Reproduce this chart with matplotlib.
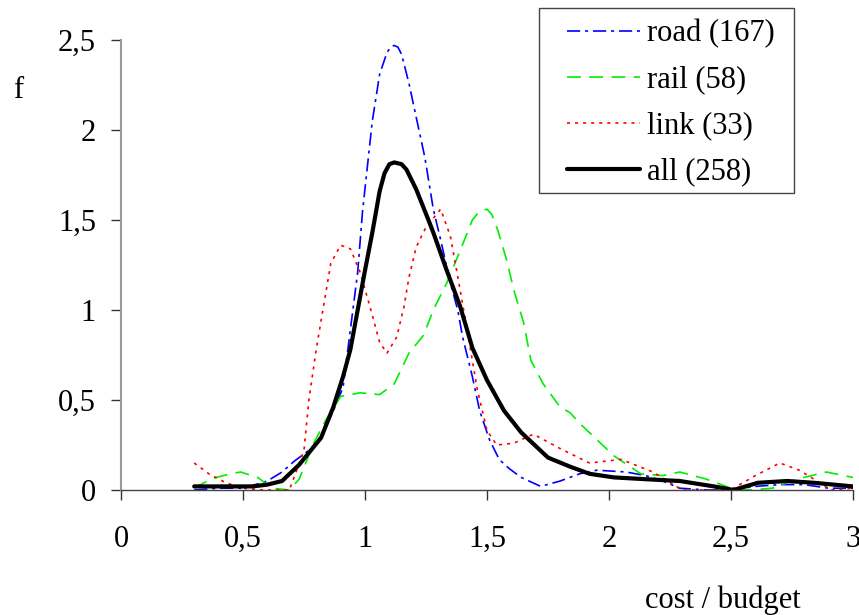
import numpy as np
import matplotlib as mpl
mpl.use("Agg")
import matplotlib.pyplot as plt
import matplotlib.patches as ptc
from matplotlib.ticker import FuncFormatter

# values
road_x = [0.30, 0.40, 0.50, 0.60, 0.66, 0.71, 0.76, 0.80, 0.84, 0.88, 0.91, 0.94,
          0.97, 0.99, 1.01, 1.03, 1.06, 1.09, 1.105, 1.12, 1.135, 1.15, 1.18, 1.21,
          1.245, 1.28, 1.31, 1.35, 1.38, 1.40, 1.44, 1.47, 1.51, 1.55, 1.59, 1.64,
          1.72, 1.80, 1.88, 1.95, 2.07, 2.15, 2.22, 2.29, 2.40, 2.50, 2.60, 2.70,
          2.80, 2.90, 3.00]
road_y = [0.00, 0.01, 0.01, 0.05, 0.10, 0.16, 0.21, 0.26, 0.35, 0.47, 0.57, 0.89,
          1.21, 1.55, 1.80, 2.05, 2.31, 2.43, 2.46, 2.47, 2.46, 2.42, 2.26, 2.07,
          1.85, 1.56, 1.39, 1.15, 1.00, 0.85, 0.63, 0.44, 0.28, 0.17, 0.12, 0.07,
          0.02, 0.05, 0.09, 0.11, 0.10, 0.08, 0.05, 0.01, 0.00, 0.00, 0.02, 0.03,
          0.03, 0.01, 0.01]

rail_x = [0.30, 0.34, 0.39, 0.45, 0.49, 0.56, 0.62, 0.69, 0.73, 0.79, 0.84, 0.90,
          0.98, 1.06, 1.12, 1.18, 1.24, 1.28, 1.335, 1.39, 1.44, 1.47, 1.50, 1.52,
          1.545, 1.58, 1.61, 1.65, 1.68, 1.73, 1.80, 1.84, 1.88, 1.95, 2.02, 2.13,
          2.22, 2.29, 2.40, 2.50, 2.58, 2.67, 2.77, 2.89, 3.00]
rail_y = [0.01, 0.04, 0.07, 0.09, 0.10, 0.07, 0.01, 0.00, 0.06, 0.26, 0.39, 0.52,
          0.54, 0.53, 0.59, 0.76, 0.86, 1.00, 1.15, 1.33, 1.50, 1.55, 1.56, 1.53,
          1.44, 1.28, 1.11, 0.93, 0.72, 0.59, 0.46, 0.43, 0.37, 0.28, 0.19, 0.09,
          0.08, 0.10, 0.06, 0.01, 0.00, 0.01, 0.06, 0.10, 0.07]

link_x = [0.30, 0.36, 0.43, 0.50, 0.58, 0.69, 0.75, 0.77, 0.80, 0.83, 0.86, 0.90,
          0.94, 0.98, 1.02, 1.06, 1.09, 1.13, 1.16, 1.18, 1.21, 1.25, 1.31, 1.35,
          1.39, 1.42, 1.46, 1.50, 1.54, 1.61, 1.69, 1.80, 1.92, 2.05, 2.18, 2.30,
          2.40, 2.51, 2.60, 2.70, 2.78, 2.84, 2.91, 3.00]
link_y = [0.15, 0.09, 0.04, 0.01, 0.00, 0.00, 0.22, 0.50, 0.78, 1.02, 1.26, 1.36,
          1.34, 1.21, 1.02, 0.82, 0.76, 0.85, 1.02, 1.18, 1.35, 1.46, 1.56, 1.41,
          1.11, 0.88, 0.56, 0.33, 0.25, 0.26, 0.31, 0.23, 0.15, 0.17, 0.10, 0.00,
          0.00, 0.01, 0.08, 0.15, 0.11, 0.06, 0.00, 0.01]

all_x = [0.30, 0.40, 0.54, 0.60, 0.66, 0.73, 0.82, 0.87, 0.91, 0.94, 0.97, 1.00,
         1.03, 1.06, 1.08, 1.10, 1.12, 1.15, 1.17, 1.21, 1.26, 1.28, 1.335, 1.39,
         1.44, 1.50, 1.57, 1.64, 1.75, 1.84, 1.92, 2.02, 2.15, 2.29, 2.43, 2.51,
         2.61, 2.73, 2.84, 3.00]
all_y = [0.02, 0.02, 0.02, 0.03, 0.05, 0.14, 0.29, 0.46, 0.63, 0.78, 1.00, 1.22,
         1.43, 1.66, 1.76, 1.81, 1.82, 1.81, 1.78, 1.67, 1.50, 1.43, 1.22, 1.02,
         0.79, 0.61, 0.44, 0.32, 0.18, 0.13, 0.09, 0.07, 0.06, 0.05, 0.02, 0.00,
         0.04, 0.05, 0.04, 0.02]

labels = ["road (167)", "rail (58)", "link (33)", "all (258)"]
x_ticks = [0, 0.5, 1, 1.5, 2, 2.5, 3]
y_ticks = [0, 0.5, 1, 1.5, 2, 2.5]

W, H = 859, 615
plt.rcParams["font.family"] = ["Liberation Serif", "DejaVu Serif"]
plt.rcParams["lines.scale_dashes"] = False

fig = plt.figure(figsize=(W / 100, H / 100), dpi=100)
ax = fig.add_axes([121 / W, 1 - 490 / H, 732 / W, 450 / H])

ax.plot(road_x, road_y, color="#0000ff", lw=1.2, dashes=(9.5, 3.5, 2.2, 3.5), label=labels[0])
ax.plot(rail_x, rail_y, color="#00ee00", lw=1.2, dashes=(10, 6.0), label=labels[1])
ax.plot(link_x, link_y, color="#ff0000", lw=1.2, dashes=(2.2, 3.6), label=labels[2])
ax.plot(all_x, all_y, color="black", lw=3.0, solid_capstyle="round", label=labels[3])

ax.set_xlim(0, 3)
ax.set_ylim(0, 2.5)
ax.set_xticks(x_ticks)
ax.set_yticks(y_ticks)
fmt = FuncFormatter(lambda v, p: f"{v:g}".replace(".", ","))
ax.xaxis.set_major_formatter(fmt)
ax.yaxis.set_major_formatter(fmt)
ax.tick_params(direction="out", length=7, width=1, color="#333333",
               labelsize=22, labelcolor="black")
ax.tick_params(axis="x", pad=18)
ax.tick_params(axis="y", pad=11)

for side in ["top", "right"]:
    ax.spines[side].set_visible(False)
ax.spines["left"].set_color("#999999")
ax.spines["left"].set_linewidth(1.5)
ax.spines["bottom"].set_color("#444444")
ax.spines["bottom"].set_linewidth(1.0)

fig.text(18 / W, 1 - 90 / H, "f", fontsize=22, ha="center", va="center")
fig.text(723 / W, 1 - 600 / H, "cost / budget", fontsize=22, ha="center", va="center")

# legend box drawn by hand so its padding can differ in x and y
frame = ptc.Rectangle((539 / W, 1 - 193 / H), 255 / W, 185 / H, transform=fig.transFigure,
                      facecolor="white", edgecolor="#444444", lw=1.0, zorder=5)
fig.add_artist(frame)
leg = fig.legend(loc="upper left", bbox_to_anchor=(567 / W, 1 - 19 / H),
                 fontsize=22, frameon=False, handlelength=2.4,
                 handletextpad=0.23, labelspacing=0.56, borderpad=0,
                 borderaxespad=0)
leg.set_zorder(6)

fig.savefig("out.png", dpi=100)
